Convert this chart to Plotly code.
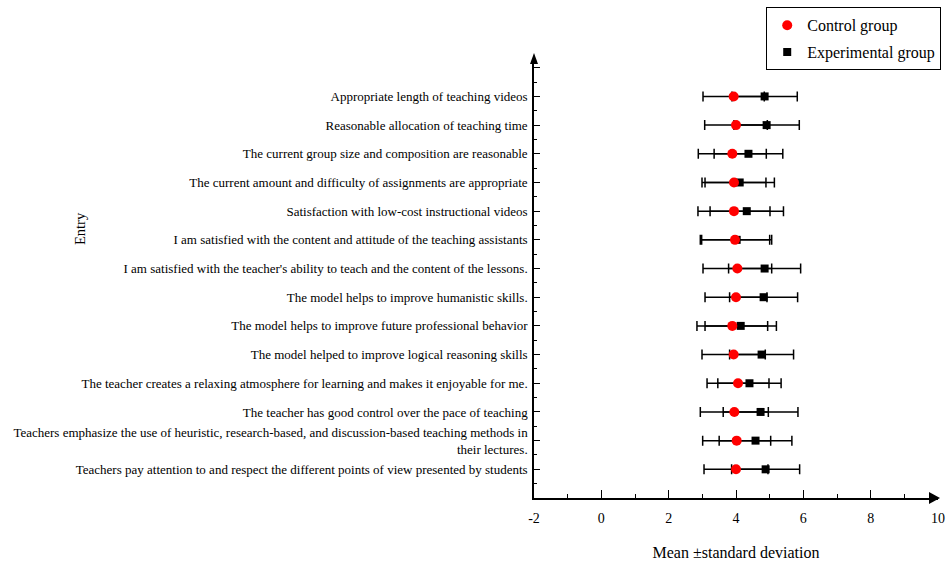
import plotly.graph_objects as go

# Categories listed top to bottom as in the chart
categories = [
    "Appropriate length of teaching videos",
    "Reasonable allocation of teaching time",
    "The current group size and composition are reasonable",
    "The current amount and difficulty of assignments are appropriate",
    "Satisfaction with low-cost instructional videos",
    "I am satisfied with the content and attitude of the teaching assistants",
    "I am satisfied with the teacher's ability to teach and the content of the lessons.",
    "The model helps to improve humanistic skills.",
    "The model helps to improve future professional behavior",
    "The model helped to improve logical reasoning skills",
    "The teacher creates a relaxing atmosphere for learning and makes it enjoyable for me.",
    "The teacher has good control over the pace of teaching",
    "Teachers emphasize the use of heuristic, research-based, and discussion-based teaching methods in<br>their lectures.",
    "Teachers pay attention to and respect the different points of view presented by students",
]

control_mean = [3.93, 4.00, 3.89, 3.94, 3.94, 3.97, 4.04, 4.00, 3.89, 3.93, 4.06, 3.95, 4.02, 4.00]
control_sd   = [0.91, 0.93, 1.01, 0.95, 1.07, 1.03, 1.02, 0.92, 1.05, 0.94, 0.92, 1.01, 1.01, 0.95]
exp_mean     = [4.85, 4.91, 4.37, 4.11, 4.32, 4.02, 4.85, 4.82, 4.14, 4.76, 4.40, 4.73, 4.58, 4.88]
exp_sd       = [0.97, 0.97, 1.02, 1.03, 1.09, 1.04, 1.07, 1.01, 1.06, 0.95, 0.94, 1.11, 1.08, 1.01]

x_ticks = [-2, 0, 2, 4, 6, 8, 10]

n = len(categories)
ypos = [n - 1 - i for i in range(n)]  # top item highest

FONT = "Liberation Serif, Times New Roman, serif"

W, H = 946, 566
ML, MR, MT, MB = 533.5, 8, 61.8, 67.7
PW = W - ML - MR
PH = H - MT - MB

fig = go.Figure()
fig.add_trace(go.Scatter(
    x=exp_mean, y=ypos, mode="markers", name="Experimental group",
    marker=dict(symbol="square", size=8, color="black"),
    error_x=dict(type="data", array=exp_sd, color="black", thickness=1.5, width=5),
    legendrank=2, legendgroup="exp",
))
fig.add_trace(go.Scatter(
    x=control_mean, y=ypos, mode="markers", name="Control group",
    marker=dict(symbol="circle", size=10, color="red"),
    error_x=dict(type="data", array=control_sd, color="black", thickness=1.5, width=5),
    legendrank=1, legendgroup="ctl",
))

fig.update_layout(
    width=W, height=H,
    margin=dict(l=ML, r=MR, t=MT, b=MB, pad=0, autoexpand=False),
    paper_bgcolor="white", plot_bgcolor="white",
    font=dict(family=FONT, color="black", size=13),
    showlegend=True,
    legend=dict(
        x=(766 - ML) / PW, xanchor="left", y=(MT + PH - 7) / PH, yanchor="top",
        bordercolor="black", borderwidth=1, bgcolor="white", tracegroupgap=3,
        font=dict(family=FONT, size=16, color="black"),
    ),
    xaxis=dict(
        range=[-2, 10], tickvals=x_ticks, ticktext=[str(v) for v in x_ticks],
        showgrid=False, zeroline=False, automargin=False,
        showline=True, linecolor="black", linewidth=1.5,
        ticks="inside", ticklen=8, tickwidth=1.2, tickcolor="black",
        minor=dict(tickvals=[-1, 1, 3, 5, 7, 9], ticks="inside", ticklen=4,
                   tickwidth=1.2, tickcolor="black", showgrid=False),
        tickfont=dict(family=FONT, size=14, color="black"),
        ticklabelstandoff=6, ticklabeloverflow="allow",
        title=dict(text="Mean ±standard deviation", font=dict(family=FONT, size=16, color="black"),
                   standoff=22),
    ),
    yaxis=dict(
        range=[-1, 14.2],
        tickvals=ypos + [n], ticktext=categories + [""],
        showgrid=False, zeroline=False, automargin=False,
        showline=True, linecolor="black", linewidth=1.5,
        ticks="inside", ticklen=6, tickwidth=1.2, tickcolor="black",
        minor=dict(tickvals=[i + 0.5 for i in range(-1, n)], ticks="inside", ticklen=3,
                   tickwidth=1.2, tickcolor="black", showgrid=False),
        tickfont=dict(family=FONT, size=13, color="black"),
        ticklabelstandoff=2, ticklabeloverflow="allow",
    ),
    annotations=[dict(
        text="Entry", textangle=-90, xref="paper", yref="paper",
        x=(79 - ML) / PW, y=(MT + PH - 229) / PH,
        xanchor="center", yanchor="middle", showarrow=False,
        font=dict(family=FONT, size=14.5, color="black"),
    )],
    shapes=[
        dict(type="path", xref="paper", yref="paper", xsizemode="pixel", ysizemode="pixel",
             xanchor=1, yanchor=0, path="M -9,-6 L 2,0 L -9,6 Z",
             fillcolor="black", line=dict(color="black", width=0)),
        dict(type="path", xref="paper", yref="paper", xsizemode="pixel", ysizemode="pixel",
             xanchor=0, yanchor=1, path="M -4,-2 L 0,9 L 4,-2 Z",
             fillcolor="black", line=dict(color="black", width=0)),
    ],
)

fig.write_html(
    "out.html",
    config={"displayModeBar": False},
    post_script="document.body.style.margin='0';document.body.style.overflow='hidden';",
)
